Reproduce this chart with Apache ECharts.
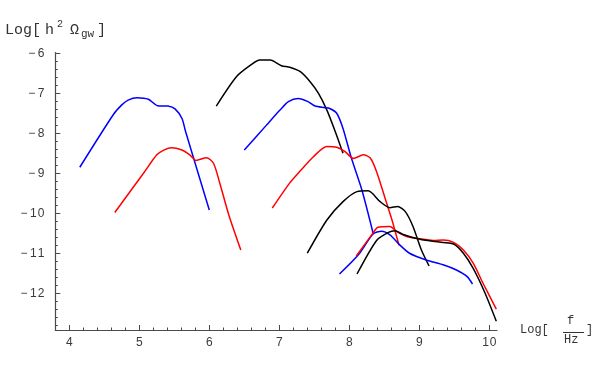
<!DOCTYPE html>
<html>
<head>
<meta charset="utf-8">
<script src="https://cdn.jsdelivr.net/npm/echarts@6/dist/echarts.min.js"></script>
<style>html,body{margin:0;padding:0;background:#fff}#c{width:600px;height:371px}</style>
</head>
<body>
<div id="c"></div>
<script>
// Tick values
const xMajorTicks = [4, 5, 6, 7, 8, 9, 10];
const yMajorTicks = [-12, -11, -10, -9, -8, -7, -6];

// Curves: [log10 f, log10 h^2 Omega_gw]
const blue1 = [[4.15,-8.85],[4.63,-7.53],[4.75,-7.29],[4.84,-7.17],[4.97,-7.11],[5.13,-7.15],[5.26,-7.31],[5.41,-7.32],[5.51,-7.39],[5.61,-7.63],[5.66,-7.95],[6.0,-9.92]];
const red1 = [[4.65,-9.98],[5.06,-9.0],[5.25,-8.54],[5.35,-8.42],[5.46,-8.36],[5.61,-8.42],[5.72,-8.54],[5.81,-8.68],[5.96,-8.61],[6.06,-8.75],[6.15,-9.25],[6.28,-10.05],[6.45,-10.92]];
const black1 = [[6.10,-7.32],[6.39,-6.58],[6.61,-6.27],[6.72,-6.17],[6.87,-6.17],[7.03,-6.31],[7.15,-6.35],[7.30,-6.46],[7.44,-6.71],[7.56,-7.0],[7.68,-7.42],[7.80,-7.96],[7.91,-8.5]];
const blue2 = [[6.50,-8.42],[6.82,-7.79],[7.01,-7.42],[7.13,-7.21],[7.27,-7.13],[7.41,-7.21],[7.51,-7.32],[7.65,-7.36],[7.72,-7.38],[7.82,-7.5],[7.91,-7.88],[8.03,-8.62],[8.18,-9.42],[8.34,-10.5]];
const red2 = [[6.90,-9.87],[7.15,-9.24],[7.30,-8.94],[7.49,-8.58],[7.68,-8.33],[7.82,-8.35],[7.94,-8.46],[8.06,-8.63],[8.20,-8.54],[8.30,-8.62],[8.39,-8.96],[8.51,-9.62],[8.61,-10.17],[8.65,-10.42],[8.71,-10.8]];
const black2 = [[7.40,-11.0],[7.68,-10.17],[7.91,-9.71],[8.11,-9.46],[8.27,-9.44],[8.44,-9.71],[8.58,-9.86],[8.69,-9.83],[8.80,-9.96],[8.91,-10.33],[9.03,-10.92],[9.14,-11.32]];
const blue3 = [[7.86,-11.52],[8.13,-11.04],[8.34,-10.52],[8.46,-10.45],[8.58,-10.54],[8.72,-10.79],[8.86,-11.0],[9.10,-11.17],[9.34,-11.29],[9.53,-11.42],[9.68,-11.58],[9.76,-11.77]];
const red3 = [[8.10,-11.07],[8.32,-10.54],[8.41,-10.35],[8.58,-10.33],[8.68,-10.46],[8.82,-10.58],[9.01,-10.64],[9.20,-10.68],[9.34,-10.67],[9.49,-10.73],[9.63,-10.92],[9.77,-11.25],[9.91,-11.75],[10.10,-12.4]];
const black3 = [[8.11,-11.52],[8.39,-10.68],[8.56,-10.48],[8.65,-10.44],[8.77,-10.53],[8.96,-10.63],[9.15,-10.69],[9.34,-10.73],[9.49,-10.77],[9.63,-11.0],[9.77,-11.38],[9.94,-12.0],[10.10,-12.7]];

const curves = [
  {data: blue1, color: '#0000ff'}, {data: red1, color: '#ff0000'}, {data: black1, color: '#000000'},
  {data: blue2, color: '#0000ff'}, {data: red2, color: '#ff0000'}, {data: black2, color: '#000000'},
  {data: blue3, color: '#0000ff'}, {data: red3, color: '#ff0000'}, {data: black3, color: '#000000'}
];

const xMin = 3.8, xMax = 10.11, yMin = -12.92, yMax = -5.98;
function minors(lo, hi, step, majors) {
  const out = [];
  for (let i = Math.ceil(lo / step - 1e-6); i * step <= hi + 1e-6; i++) {
    const v = Math.round(i * step * 10) / 10;
    if (!majors.includes(v)) out.push(v);
  }
  return out;
}
const xMinorTicks = minors(xMin, xMax, 0.2, xMajorTicks);
const yMinorTicks = minors(yMin, yMax, 0.2, yMajorTicks);

function spaced(v) {
  const n = Math.abs(Math.round(v));
  const digits = String(n).split('').join('\u200A');
  return (v < 0 ? '\u2212\u2009' : '') + digits;
}

const axisColor = '#4a4a4a';
const labelFont = {color: '#3a3a3a', fontFamily: 'Liberation Sans', fontSize: 12};
const chart = echarts.init(document.getElementById('c'), null, {renderer: 'canvas'});
const mono = 'Liberation Mono';
chart.setOption({
  animation: false,
  grid: {left: 55.3, right: 103, top: 52.5, bottom: 41},
  xAxis: [
    {type: 'value', min: xMin, max: xMax, position: 'bottom',
     axisLine: {show: true, onZero: false, lineStyle: {color: axisColor, width: 1.2}},
     axisTick: {show: true, inside: true, length: 5, customValues: xMajorTicks, lineStyle: {color: axisColor}},
     axisLabel: Object.assign({customValues: xMajorTicks, margin: 7, formatter: spaced}, labelFont),
     splitLine: {show: false}},
    {type: 'value', min: xMin, max: xMax, position: 'bottom', offset: 0,
     axisLine: {show: false},
     axisTick: {show: true, inside: true, length: 2.5, customValues: xMinorTicks, lineStyle: {color: axisColor}},
     axisLabel: {show: false}, splitLine: {show: false}}
  ],
  yAxis: [
    {type: 'value', min: yMin, max: yMax, position: 'left',
     axisLine: {show: true, onZero: false, lineStyle: {color: axisColor, width: 1.2}},
     axisTick: {show: true, inside: true, length: 5, customValues: yMajorTicks, lineStyle: {color: axisColor}},
     axisLabel: Object.assign({customValues: yMajorTicks, margin: 11, formatter: spaced}, labelFont),
     splitLine: {show: false}},
    {type: 'value', min: yMin, max: yMax, position: 'left', offset: 0,
     axisLine: {show: false},
     axisTick: {show: true, inside: true, length: 2.5, customValues: yMinorTicks, lineStyle: {color: axisColor}},
     axisLabel: {show: false}, splitLine: {show: false}}
  ],
  series: curves.map(c => ({
    type: 'line', data: c.data, xAxisIndex: 0, yAxisIndex: 0,
    showSymbol: false, smooth: 0.25, silent: true,
    lineStyle: {color: c.color, width: 1.5}
  })),
  graphic: [
    {type: 'text', left: 5, top: 23, style: {text: 'Log[', font: '15px ' + mono, fill: '#333'}},
    {type: 'text', left: 45, top: 23, style: {text: 'h', font: '15px ' + mono, fill: '#333'}},
    {type: 'text', left: 57, top: 19, style: {text: '2', font: '10px ' + mono, fill: '#333'}},
    {type: 'text', left: 70, top: 23, style: {text: 'Ω', font: '15px ' + mono, fill: '#333'}},
    {type: 'text', left: 81, top: 29, style: {text: 'gw', font: '11px ' + mono, fill: '#333'}},
    {type: 'text', left: 97, top: 23, style: {text: ']', font: '15px ' + mono, fill: '#333'}},
    {type: 'text', left: 520, top: 324, style: {text: 'Log[', font: '12px ' + mono, fill: '#333'}},
    {type: 'text', left: 567, top: 315, style: {text: 'f', font: '12px ' + mono, fill: '#333'}},
    {type: 'line', shape: {x1: 563, y1: 332.5, x2: 584, y2: 332.5}, style: {stroke: '#333', lineWidth: 1}},
    {type: 'text', left: 564, top: 334, style: {text: 'Hz', font: '12px ' + mono, fill: '#333'}},
    {type: 'text', left: 586, top: 324, style: {text: ']', font: '12px ' + mono, fill: '#333'}}
  ]
});
</script>
</body>
</html>
